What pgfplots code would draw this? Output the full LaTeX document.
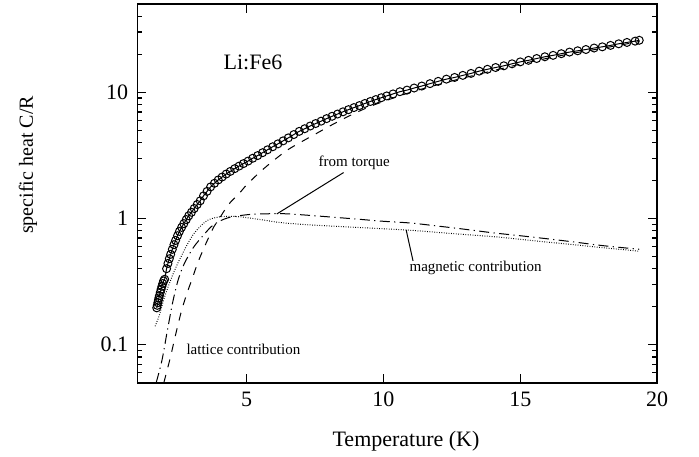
\documentclass[border=0pt]{standalone}
\usepackage{fontspec}
\setmainfont{Liberation Serif}
\usepackage{pgfplots}
\pgfplotsset{compat=1.18}

% measured data
\pgfplotstableread{
T C
1.71 0.196
1.73 0.205
1.75 0.215
1.77 0.225
1.79 0.235
1.81 0.245
1.84 0.26
1.87 0.275
1.90 0.29
1.93 0.305
1.96 0.32
2.00 0.33
2.07 0.40
2.12 0.44
2.17 0.48
2.22 0.52
2.28 0.57
2.34 0.62
2.40 0.67
2.47 0.73
2.54 0.79
2.62 0.85
2.70 0.91
2.79 0.98
2.88 1.05
2.98 1.12
3.08 1.20
3.19 1.29
3.30 1.38
3.42 1.51
3.55 1.64
3.68 1.78
3.82 1.90
3.96 2.02
4.10 2.13
4.25 2.25
4.40 2.36
4.56 2.48
4.72 2.60
4.88 2.72
5.05 2.85
5.22 3.0
5.40 3.15
5.58 3.32
5.76 3.50
5.95 3.70
6.14 3.90
6.33 4.12
6.52 4.35
6.72 4.62
6.92 4.90
7.12 5.14
7.32 5.40
7.52 5.65
7.72 5.90
7.92 6.18
8.12 6.45
8.32 6.72
8.52 7.0
8.72 7.28
8.92 7.56
9.12 7.84
9.32 8.15
9.52 8.45
9.72 8.75
9.92 9.05
10.12 9.35
10.35 9.7
10.6 10.1
10.86 10.4
11.12 10.8
11.4 11.2
11.7 11.7
12.0 12.2
12.3 12.7
12.6 13.1
12.9 13.6
13.2 14.1
13.5 14.7
13.8 15.2
14.1 15.7
14.4 16.2
14.7 16.8
15.0 17.4
15.3 17.9
15.6 18.5
15.9 19.1
16.2 19.6
16.5 20.2
16.8 20.8
17.1 21.3
17.4 21.8
17.7 22.4
18.0 22.9
18.3 23.5
18.6 24.2
18.9 24.8
19.2 25.4
19.35 25.8
}\measured

% lattice contribution
\pgfplotstableread{
T C
1.97 0.05
2.2 0.078
2.4 0.12
2.6 0.18
2.8 0.25
3.0 0.33
3.2 0.44
3.4 0.56
3.6 0.70
3.8 0.86
4.0 1.00
4.2 1.17
4.4 1.34
4.76 1.61
5.0 1.85
5.5 2.35
6.0 2.9
6.5 3.5
7.0 4.05
7.5 4.65
8.0 5.35
8.5 6.1
9.0 6.9
9.5 7.7
10.0 8.45
11.0 10.0
12.0 11.5
13.0 13.1
14.0 14.8
15.0 16.7
16.0 18.6
17.0 20.5
18.0 22.3
19.35 25.2
}\lattice

% magnetic contribution from torque
\pgfplotstableread{
T C
1.69 0.05
1.9 0.075
2.1 0.13
2.3 0.22
2.5 0.33
2.7 0.43
2.9 0.52
3.1 0.61
3.4 0.73
3.7 0.86
4.0 0.95
4.3 1.01
4.7 1.05
5.2 1.08
5.8 1.09
6.4 1.09
7.0 1.07
8.0 1.03
9.0 0.99
10.0 0.95
11.0 0.92
12.0 0.87
13.0 0.82
14.0 0.77
15.0 0.73
16.0 0.69
17.0 0.65
18.0 0.61
19.35 0.57
}\torque

% magnetic contribution
\pgfplotstableread{
T C
1.65 0.14
1.8 0.17
2.0 0.24
2.3 0.36
2.62 0.51
3.05 0.75
3.54 0.96
4.0 1.03
4.27 1.04
4.76 1.03
5.5 0.98
6.2 0.93
6.96 0.90
7.68 0.88
9.0 0.85
10.86 0.81
12.5 0.76
14.27 0.71
16.0 0.65
17.93 0.59
19.35 0.55
}\magnetic

\begin{document}
\begin{tikzpicture}
\begin{axis}[
    scale only axis,
    width=259.85pt,
    height=189.35pt,
    ymode=log,
    xmin=1, xmax=20,
    ymin=0.05, ymax=50,
    xtick={5,10,15,20},
    ytick={0.1,1,10},
    yticklabels={0.1,1,10},
    minor ytick={0.05,0.06,0.07,0.08,0.09,0.2,0.3,0.4,0.5,0.6,0.7,0.8,0.9,2,3,4,5,6,7,8,9,20,30,40,50},
    tick align=inside,
    major tick length=4.5pt,
    minor tick length=2.5pt,
    every tick/.style={line width=0.7pt, black},
    axis line style={line width=0.8pt},
    /pgf/number format/assume math mode=true,
    tick label style={font=\fontsize{11}{13}\selectfont},
    xticklabel style={yshift=-1.2pt},
    yticklabel style={xshift=-1pt},
    xlabel={Temperature (K)},
    xlabel style={at={(rel axis cs:0.517,-0.154)}, anchor=center, font=\fontsize{11}{13}\selectfont},
    ylabel={specific heat C/R},
    ylabel style={at={(rel axis cs:-0.2103,0.575)}, anchor=center, rotate=0, font=\fontsize{10}{12}\selectfont},
    clip=true,
]
\addplot[black, line width=0.5pt, smooth] table[x=T, y=C] {\measured};
\addplot[black, only marks, mark=o, mark size=2pt, mark options={line width=0.5pt}] table[x=T, y=C] {\measured};
\addplot[black, line width=0.5pt, smooth, dash pattern=on 4pt off 4pt] table[x=T, y=C] {\lattice};
\addplot[black, line width=0.5pt, smooth, dash pattern=on 5pt off 2.2pt on 0.6pt off 2.2pt] table[x=T, y=C] {\torque};
\addplot[black, line width=0.5pt, smooth, dash pattern=on 0.4pt off 0.8pt] table[x=T, y=C] {\magnetic};

\node[font=\fontsize{11}{13}\selectfont] at (axis cs:5.23,17.2) {Li:Fe6};
\node[font=\fontsize{7.5}{9}\selectfont] at (axis cs:4.88,0.0912) {lattice contribution};
\node[font=\fontsize{7.5}{9}\selectfont] at (axis cs:8.93,2.75) {from torque};
\draw[line width=0.5pt] (axis cs:6.10,1.086) -- (axis cs:8.54,2.31);
\node[font=\fontsize{7.5}{9}\selectfont] at (axis cs:13.37,0.408) {magnetic contribution};
\draw[line width=0.5pt] (axis cs:10.83,0.81) -- (axis cs:11.08,0.461);

\coordinate (bl) at (rel axis cs:-0.2642,-0.1936);
\coordinate (tr) at (rel axis cs:1.0808,1.0106);
\end{axis}
\pgfresetboundingbox
\path[use as bounding box] (bl) rectangle (tr);
\end{tikzpicture}
\end{document}
